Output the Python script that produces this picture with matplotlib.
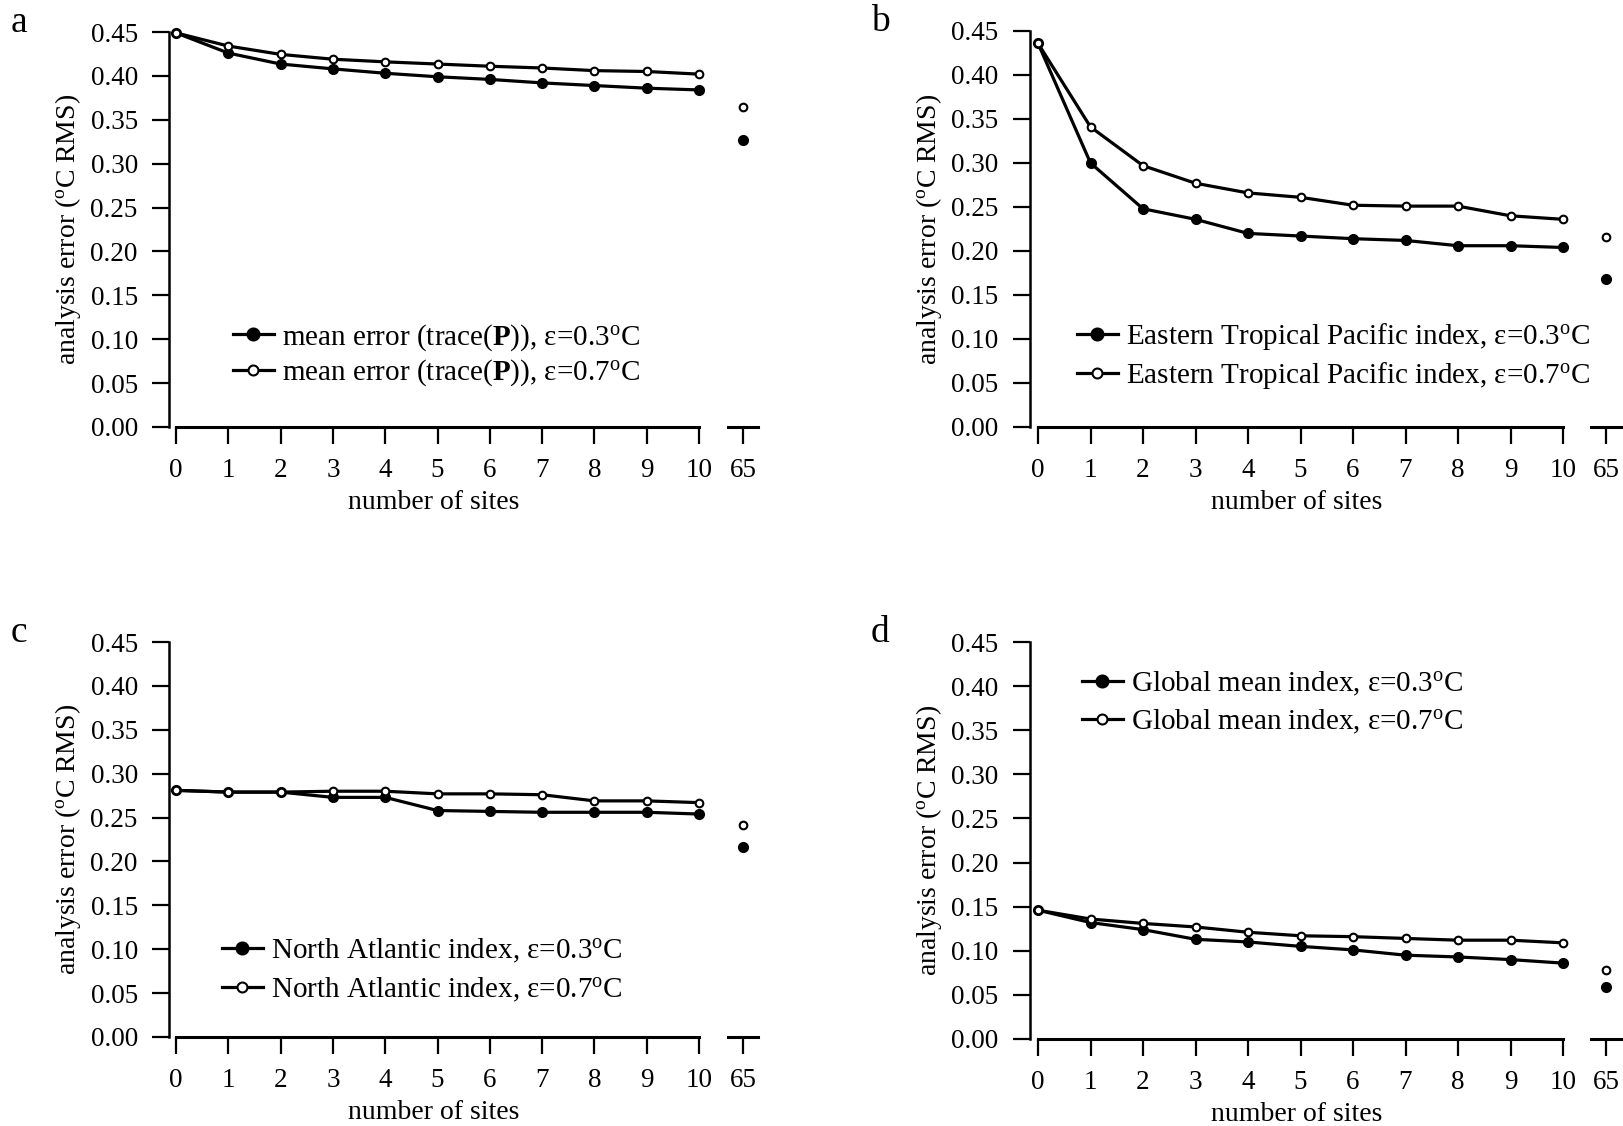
import matplotlib
matplotlib.use("Agg")
import matplotlib.pyplot as plt

plt.rcParams["font.family"] = ["Liberation Serif", "DejaVu Serif"]
plt.rcParams["mathtext.fontset"] = "custom"
plt.rcParams["mathtext.rm"] = "Liberation Serif"
plt.rcParams["mathtext.bf"] = "Liberation Serif:bold"
plt.rcParams["mathtext.it"] = "Liberation Serif:italic"

# number of sites on the main axis, plus the far point
sites = list(range(11))
all_sites = 65
y_ticks = [0.00, 0.05, 0.10, 0.15, 0.20, 0.25, 0.30, 0.35, 0.40, 0.45]

# a: mean error (trace(P))
a_err03 = [0.449, 0.426, 0.4135, 0.408, 0.403, 0.399, 0.396, 0.392, 0.389, 0.386, 0.384]
a_err07 = [0.449, 0.434, 0.4245, 0.419, 0.416, 0.4135, 0.411, 0.409, 0.406, 0.405, 0.402]
a_all = (0.327, 0.364)

# b: Eastern Tropical Pacific index
b_err03 = [0.436, 0.300, 0.248, 0.236, 0.220, 0.217, 0.214, 0.212, 0.206, 0.206, 0.204]
b_err07 = [0.436, 0.341, 0.297, 0.277, 0.266, 0.261, 0.252, 0.251, 0.251, 0.240, 0.236]
b_all = (0.168, 0.216)

# c: North Atlantic index
c_err03 = [0.281, 0.279, 0.279, 0.273, 0.273, 0.258, 0.257, 0.256, 0.256, 0.256, 0.254]
c_err07 = [0.281, 0.279, 0.279, 0.280, 0.280, 0.277, 0.277, 0.276, 0.269, 0.269, 0.267]
c_all = (0.217, 0.241)

# d: Global mean index
d_err03 = [0.146, 0.132, 0.124, 0.113, 0.110, 0.105, 0.101, 0.095, 0.093, 0.090, 0.086]
d_err07 = [0.146, 0.136, 0.131, 0.127, 0.121, 0.117, 0.116, 0.114, 0.112, 0.112, 0.109]
d_all = (0.059, 0.078)

names = ["mean error (trace($\\mathbf{P}$))", "Eastern Tropical Pacific index",
         "North Atlantic index", "Global mean index"]
letters = ["a", "b", "c", "d"]

W, H = 1623, 1126
fig = plt.figure(figsize=(W / 100, H / 100), dpi=100)


def frac(left, right, top, bottom):
    return [left / W, 1 - bottom / H, (right - left) / W, (bottom - top) / H]


# pixel layout: y spine, x=0, x=10, y=0.45, y=0, 65 tick, legend anchor, row spacing
layout = [
    dict(spine=169, x0=176, x10=699, top=32, bot=427, x65=743, leg=(233, 355), ls=0.17),
    dict(spine=1030, x0=1038, x10=1563, top=31, bot=427, x65=1606, leg=(1077, 356), ls=0.26),
    dict(spine=169, x0=176, x10=699, top=642, bot=1037, x65=743, leg=(222, 970), ls=0.36),
    dict(spine=1030, x0=1038, x10=1563, top=642, bot=1039, x65=1606, leg=(1082, 703), ls=0.34),
]
panels = [(a_err03, a_err07, a_all), (b_err03, b_err07, b_all),
          (c_err03, c_err07, c_all), (d_err03, d_err07, d_all)]

fs_tick = 19.5
fs_lab = 20
fs_leg = 21
lw = 2.3

for i, (err03, err07, far) in enumerate(panels):
    L = layout[i]
    ppu = (L["x10"] - L["x0"]) / 10
    xmin = -(L["x0"] - L["spine"]) / ppu
    ax = fig.add_axes(frac(L["spine"], L["x10"], L["top"], L["bot"]))
    ax.set_xlim(xmin, 10)
    ax.set_ylim(0, 0.45)

    lab03 = names[i] + ", ε=0.3$^{\\rm o}$C"
    lab07 = names[i] + ", ε=0.7$^{\\rm o}$C"
    ax.plot(sites, err03, color="black", lw=lw, marker="o", ms=7,
            mfc="black", mec="black", clip_on=False, zorder=3, label=lab03)
    ax.plot(sites, err07, color="black", lw=lw, marker="o", ms=5.5,
            mfc="white", mec="black", mew=1.5, clip_on=False, zorder=4, label=lab07)

    for side in ["top", "right"]:
        ax.spines[side].set_visible(False)
    ax.spines["left"].set_bounds(0, 0.45)
    ax.spines["bottom"].set_bounds(0, 10)
    ax.spines["left"].set_linewidth(1.8)
    ax.spines["bottom"].set_linewidth(2.2)
    ax.set_xticks(sites)
    ax.set_yticks(y_ticks)
    ax.set_yticklabels([f"{v:.2f}" for v in y_ticks])
    ax.tick_params(direction="out", length=12, width=1.6, labelsize=fs_tick, pad=10.5)
    ax.set_xlabel("number of sites", fontsize=fs_lab, labelpad=5)
    ax.set_ylabel("analysis error ($^{\\rm o}$C RMS)", fontsize=fs_lab, labelpad=5)
    ax.patch.set_alpha(0)

    ax.legend(loc="center left", bbox_to_anchor=(L["leg"][0] / W, 1 - L["leg"][1] / H),
              bbox_transform=fig.transFigure, frameon=False, fontsize=fs_leg,
              handlelength=1.4, handletextpad=0.28, labelspacing=L["ls"],
              markerscale=1.3, borderpad=0, borderaxespad=0)

    # the separate point at 65 sites
    ax2 = fig.add_axes(frac(L["x65"] - 15, L["x65"] + 15, L["top"], L["bot"]))
    ax2.set_xlim(all_sites - 15 / ppu, all_sites + 15 / ppu)
    ax2.set_ylim(0, 0.45)
    ax2.plot([all_sites], [far[0]], "o", color="black", ms=7, clip_on=False)
    ax2.plot([all_sites], [far[1]], "o", ms=5.5, mfc="white", mec="black", mew=1.5,
             clip_on=False)
    for side in ["top", "right", "left"]:
        ax2.spines[side].set_visible(False)
    ax2.spines["bottom"].set_linewidth(2.2)
    ax2.set_xticks([all_sites])
    ax2.set_yticks([])
    ax2.tick_params(direction="out", length=12, width=1.6, labelsize=fs_tick, pad=10.5)
    ax2.patch.set_alpha(0)

    fig.text((L["spine"] - 150) / W, 1 - (L["top"] - 9) / H, letters[i],
             fontsize=27, ha="center", va="center")

fig.savefig("out.png", dpi=100)
